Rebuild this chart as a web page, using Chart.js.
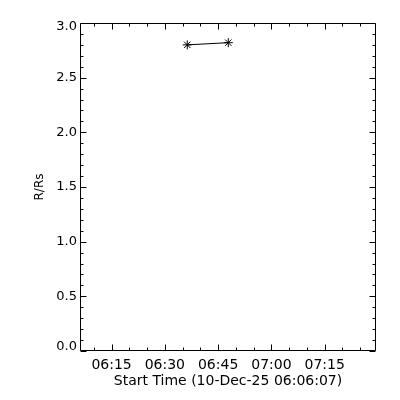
<!DOCTYPE html>
<html>
<head>
<meta charset="utf-8">
<script src="https://cdn.jsdelivr.net/npm/chart.js@4.4.1/dist/chart.umd.min.js"></script>
<style>
  html, body { margin: 0; padding: 0; background: #ffffff; }
  #wrap { width: 400px; height: 400px; }
</style>
</head>
<body>
<div id="wrap"><canvas id="c" width="400" height="400"></canvas></div>
<script>
// ---- data (x in seconds after the start time 06:06:07) ----
const xTitle = 'Start Time (10-Dec-25 06:06:07)';
const yTitle = 'R/Rs';
const timeSeconds = [1812, 2505];
const radiusRs = [2.80, 2.82];
const xMajorValues = [533, 1433, 2333, 3233, 4133];
const xMajorLabels = ['06:15', '06:30', '06:45', '07:00', '07:15'];
const xMinorValues = [233, 833, 1133, 1733, 2033, 2633, 2933, 3533, 3833, 4433, 4733];
const yMajorValues = [0, 0.5, 1.0, 1.5, 2.0, 2.5, 3.0];
const yMajorLabels = ['0.0', '0.5', '1.0', '1.5', '2.0', '2.5', '3.0'];
const yMinorValues = [0.1,0.2,0.3,0.4,0.6,0.7,0.8,0.9,1.1,1.2,1.3,1.4,1.6,1.7,1.8,1.9,2.1,2.2,2.3,2.4,2.6,2.7,2.8,2.9];
const xRange = [0, 5000];
const yRange = [0, 3];

const FAMILY = 'DejaVu Sans';

const idlAxes = {
  id: 'idlAxes',
  afterDatasetsDraw(chart) {
    const { ctx, chartArea: a, scales: { x, y } } = chart;
    const L = Math.round(a.left) + 0.5, R = Math.round(a.right) - 0.5;
    const T = Math.round(a.top) + 0.5, B = Math.round(a.bottom) - 0.5;
    ctx.save();
    ctx.strokeStyle = '#000';
    ctx.lineWidth = 1;
    ctx.beginPath();
    ctx.rect(L, T, R - L, B - T);
    const xt = (v, len) => {
      const px = Math.round(x.getPixelForValue(v)) + 0.5;
      ctx.moveTo(px, B); ctx.lineTo(px, B - len);
      ctx.moveTo(px, T); ctx.lineTo(px, T + len);
    };
    const yt = (v, len) => {
      const py = Math.round(y.getPixelForValue(v)) + 0.5;
      ctx.moveTo(L, py); ctx.lineTo(L + len, py);
      ctx.moveTo(R, py); ctx.lineTo(R - len, py);
    };
    xMajorValues.forEach(v => xt(v, 6));
    xMinorValues.forEach(v => xt(v, 3));
    yMajorValues.forEach(v => yt(v, 6));
    yMinorValues.forEach(v => yt(v, 3));
    ctx.stroke();
    ctx.restore();
  }
};

new Chart(document.getElementById('c'), {
  type: 'scatter',
  data: {
    datasets: [{
      data: timeSeconds.map((t, i) => ({ x: t, y: radiusRs[i] })),
      showLine: true,
      borderColor: '#000',
      backgroundColor: '#000',
      borderWidth: 1,
      pointStyle: 'star',
      pointRadius: 4.5,
      pointBorderWidth: 1,
      pointBorderColor: '#000',
      tension: 0
    }]
  },
  plugins: [idlAxes],
  options: {
    responsive: false,
    devicePixelRatio: 1,
    animation: false,
    layout: { padding: { top: 23, right: 24, left: 0, bottom: 0 } },
    plugins: { legend: { display: false }, tooltip: { enabled: false } },
    scales: {
      x: {
        type: 'linear',
        min: xRange[0], max: xRange[1],
        afterBuildTicks: s => { s.ticks = xMajorValues.map(v => ({ value: v })); },
        afterFit: s => { s.height = 49; },
        grid: { display: false, drawTicks: false },
        border: { display: false },
        ticks: {
          autoSkip: false, maxRotation: 0, padding: 6,
          color: '#000', font: { family: FAMILY, size: 14 },
          callback: (v) => { const i = xMajorValues.indexOf(v); return i >= 0 ? xMajorLabels[i] : ''; }
        },
        title: { display: true, text: xTitle, color: '#000', font: { family: FAMILY, size: 14 }, padding: { top: 0, bottom: 10 } }
      },
      y: {
        type: 'linear',
        min: yRange[0], max: yRange[1],
        afterBuildTicks: s => { s.ticks = yMajorValues.map(v => ({ value: v })); },
        afterFit: s => { s.width = 80; },
        grid: { display: false, drawTicks: false },
        border: { display: false },
        ticks: {
          autoSkip: false, padding: 3,
          color: '#000', font: { family: FAMILY, size: 13, lineHeight: 0.62 },
          callback: (v) => {
            const i = yMajorValues.indexOf(v);
            if (i < 0) return '';
            const lab = yMajorLabels[i];
            if (v === yRange[1]) return ['', lab];
            if (v === yRange[0]) return [lab, ''];
            return lab;
          }
        },
        title: { display: true, text: yTitle, color: '#000', font: { family: FAMILY, size: 12 }, padding: { top: 33, bottom: 0 } }
      }
    }
  }
});
</script>
</body>
</html>
